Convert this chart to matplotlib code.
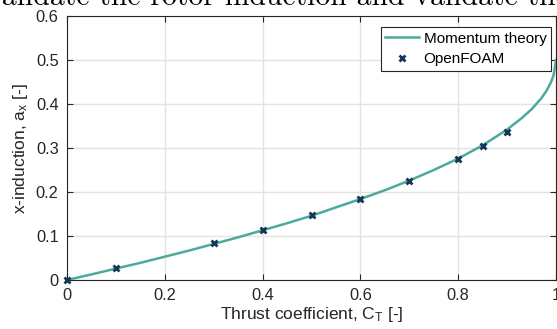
import matplotlib
matplotlib.use("Agg")
import matplotlib.pyplot as plt

plt.rcParams['font.family'] = ['Liberation Sans', 'DejaVu Sans']
plt.rcParams['mathtext.fontset'] = 'custom'
plt.rcParams['mathtext.rm'] = 'Liberation Sans'
plt.rcParams['mathtext.it'] = 'Liberation Sans'
plt.rcParams['mathtext.default'] = 'regular'

# Momentum theory curve
ct_theory = [0, 0.05, 0.1, 0.15, 0.2, 0.25, 0.3, 0.35, 0.4, 0.45, 0.5, 0.55, 0.6, 0.65,
             0.7, 0.75, 0.8, 0.85, 0.9, 0.93, 0.95, 0.97, 0.98, 0.99, 0.995, 1.0]
a_theory = [0, 0.0127, 0.026, 0.039, 0.053, 0.067, 0.082, 0.097, 0.113, 0.129, 0.146,
            0.165, 0.184, 0.204, 0.226, 0.25, 0.276, 0.306, 0.342, 0.368, 0.388, 0.413,
            0.429, 0.45, 0.465, 0.5]

# OpenFOAM points
ct_foam = [0, 0.1, 0.3, 0.4, 0.5, 0.6, 0.7, 0.8, 0.85, 0.9]
a_foam = [0, 0.0266, 0.084, 0.1136, 0.148, 0.184, 0.2257, 0.275, 0.3045, 0.337]

xticks = [0, 0.2, 0.4, 0.6, 0.8, 1]
xticklabels = ['0', '0.2', '0.4', '0.6', '0.8', '1']
yticks = [0, 0.1, 0.2, 0.3, 0.4, 0.5, 0.6]
yticklabels = ['0', '0.1', '0.2', '0.3', '0.4', '0.5', '0.6']

W, H = 557, 329
fig = plt.figure(figsize=(W / 100, H / 100), dpi=100)
ax = fig.add_axes([67 / W, 1 - 280 / H, (556 - 67) / W, (280 - 16) / H])

text_col = '#262626'
ax.plot(ct_theory, a_theory, color='#4daa9a', lw=1.8, label='Momentum theory', zorder=3)
ax.plot(ct_foam, a_foam, ls='none', marker='x', ms=5, mew=2, color='#17375a',
        label='OpenFOAM', zorder=4, clip_on=False)

ax.set_xlim(0, 1)
ax.set_ylim(0, 0.6)
ax.set_xticks(xticks)
ax.set_xticklabels(xticklabels)
ax.set_yticks(yticks)
ax.set_yticklabels(yticklabels)
ax.grid(True, color='#e3e3e3', lw=1)
ax.set_axisbelow(True)
ax.tick_params(direction='in', length=4, width=0.8, colors=text_col, labelsize=11.8,
               top=True, right=True, pad=6)
for s in ax.spines.values():
    s.set_color(text_col)
    s.set_linewidth(0.8)

ax.set_xlabel('Thrust coefficient, C$_T$ [-]', fontsize=12.5, color=text_col, labelpad=1)
ax.set_ylabel('x-induction, a$_x$ [-]', fontsize=12.5, color=text_col, labelpad=4)

leg = ax.legend(loc='upper right', fontsize=11, frameon=True, fancybox=False,
                edgecolor=text_col, framealpha=1, borderpad=0.3, handlelength=2.2,
                handletextpad=0.3, labelspacing=0.45,
                bbox_to_anchor=((551 - 67) / 489, (280 - 27) / 264), borderaxespad=0)
leg.get_frame().set_linewidth(0.8)
for t in leg.get_texts():
    t.set_color('black')

fig.text(-14 / W, 1 - 5 / H, 'validate the rotor induction and validate the',
         fontfamily='cmr10', fontsize=21.4, va='baseline', ha='left', color='black')

fig.savefig('out.png', dpi=100)
